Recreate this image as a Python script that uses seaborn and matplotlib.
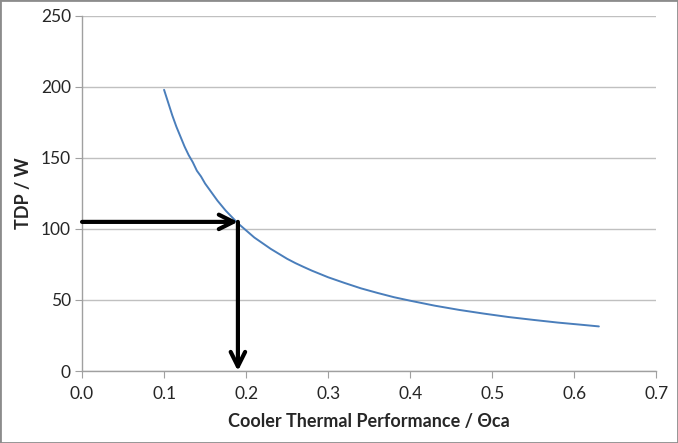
import numpy as np
import pandas as pd
import seaborn as sns
import matplotlib.pyplot as plt
from matplotlib.patches import Rectangle

# values
theta = [0.100, 0.105, 0.110, 0.115, 0.120, 0.125, 0.130, 0.135, 0.140, 0.145,
         0.150, 0.155, 0.160, 0.165, 0.170, 0.175, 0.180, 0.185, 0.190, 0.200,
         0.210, 0.220, 0.230, 0.240, 0.250, 0.260, 0.270, 0.280, 0.300, 0.320,
         0.340, 0.360, 0.380, 0.400, 0.430, 0.460, 0.490, 0.520, 0.550, 0.580,
         0.610, 0.630]
tdp = [198, 189, 180, 172, 165, 158, 152, 147, 141, 137,
       132, 128, 124, 120, 116.5, 113, 110, 107, 104, 99,
       94, 90, 86, 82.5, 79, 76, 73.3, 70.7, 66, 62,
       58.2, 55, 52, 49.5, 46, 43, 40.4, 38, 36, 34.1,
       32.5, 31.4]

# operating point marked with arrows
op_theta = 0.19
op_tdp = 105

df = pd.DataFrame({'theta': theta, 'tdp': tdp})

sns.set_style('white')
plt.rcParams['font.family'] = ['Lato', 'DejaVu Sans']

fig = plt.figure(figsize=(6.78, 4.43), dpi=100)
ax = fig.add_axes([0.121, 0.1625, 0.847, 0.8015])

sns.lineplot(data=df, x='theta', y='tdp', ax=ax, color='#4a7ebb', linewidth=1.4)

ax.set_xlim(0, 0.7)
ax.set_ylim(0, 250)
ax.set_xticks(np.arange(0, 0.71, 0.1))
ax.set_xticklabels([f'{v:.1f}' for v in np.arange(0, 0.71, 0.1)])
ax.set_yticks(range(0, 251, 50))
ax.grid(axis='y', color='#c0c0c0', linewidth=1)
ax.set_axisbelow(True)

for s in ['top', 'right']:
    ax.spines[s].set_visible(False)
for s in ['left', 'bottom']:
    ax.spines[s].set_color('#a0a0a0')
    ax.spines[s].set_linewidth(1)
ax.tick_params(axis='both', length=5, color='#a0a0a0', labelsize=12.5, direction='out')
ax.tick_params(axis='x', pad=6)
ax.tick_params(axis='y', pad=3)
ax.xaxis.set_ticks_position('bottom')
ax.yaxis.set_ticks_position('left')

ax.set_xlabel('Cooler Thermal Performance / Θca', fontsize=13, fontweight='bold', labelpad=8)
ax.set_ylabel('TDP / W', fontsize=13, fontweight='bold', labelpad=6)

arrow = dict(arrowstyle='->', color='black', lw=3, mutation_scale=26, shrinkA=0, shrinkB=0)
ax.annotate('', xy=(op_theta, op_tdp), xytext=(0, op_tdp), arrowprops=arrow)
ax.annotate('', xy=(op_theta, 0), xytext=(op_theta, op_tdp), arrowprops=arrow)

fig.patches.append(Rectangle((0, 0), 1, 1, transform=fig.transFigure, fill=False,
                             edgecolor='#8c8c8c', linewidth=2))

fig.savefig('out.png', dpi=100)
